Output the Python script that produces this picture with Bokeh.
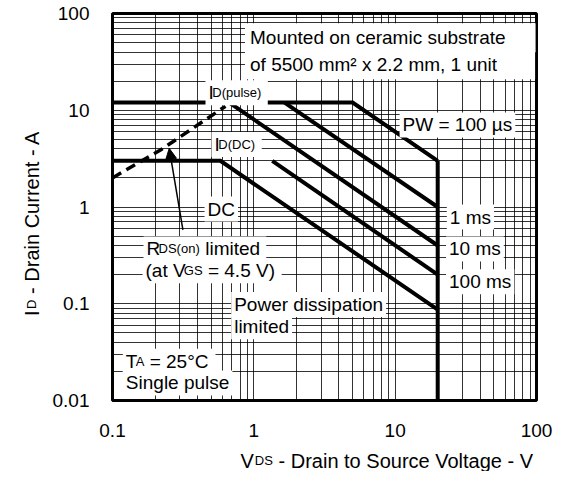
import math
from bokeh.plotting import figure
from bokeh.layouts import row, column
from bokeh.models import FixedTicker, Label, Arrow, NormalHead, Range1d
from bokeh.embed import file_html
from bokeh.resources import INLINE

# ---------------- data ----------------
pw100us_v = [0.1, 5.0, 20.0]
pw100us_i = [12.0, 12.0, 3.0]
pw1ms_v = [1.65, 20.0]
pw1ms_i = [12.0, 1.0]
pw10ms_v = [0.67, 20.0]
pw10ms_i = [12.0, 0.4]
pw100ms_v = [1.35, 20.0]
pw100ms_i = [3.0, 0.2]
dc_v = [0.1, 0.58, 20.0]
dc_i = [3.0, 3.0, 0.087]
vdss_v = [20.0, 20.0]
vdss_i = [3.0, 0.01]
rds_v = [0.1, 0.22, 0.63]
rds_i = [2.0, 3.9, 11.0]

x_major = [0.1, 1, 10, 100]
x_labels = ["0.1", "1", "10", "100"]
y_major = [0.01, 0.1, 1, 10, 100]
y_labels = ["0.01", "0.1", "1", "10", "100"]

FONT = "Liberation Sans"
FS = "19px"
SUB = "13px"
AX = "20px"

x_minor = [m * d for d in [0.1, 1, 10] for m in range(2, 10)]
y_minor = [m * d for d in [0.01, 0.1, 1, 10] for m in range(2, 10)]

# ---------------- main chart ----------------
p = figure(width=513, height=440, x_axis_type="log", y_axis_type="log",
           x_range=(0.1, 100), y_range=(0.01, 100),
           output_backend="svg", toolbar_location=None,
           min_border_left=72, min_border_right=17, min_border_top=13,
           min_border_bottom=40)

xt = FixedTicker(ticks=x_major, minor_ticks=x_minor)
yt = FixedTicker(ticks=y_major, minor_ticks=y_minor)
p.xaxis.ticker = xt
p.yaxis.ticker = yt
p.xgrid.ticker = xt
p.ygrid.ticker = yt
p.xaxis.major_label_overrides = {v: s for v, s in zip(x_major, x_labels)}
p.yaxis.major_label_overrides = {v: s for v, s in zip(y_major, y_labels)}

for ax in (p.xaxis, p.yaxis):
    ax.axis_line_color = None
    ax.major_tick_line_color = None
    ax.minor_tick_line_color = None
    ax.major_label_text_font = FONT
    ax.major_label_text_font_size = FS
    ax.major_label_text_color = "black"
p.xaxis.major_label_standoff = 17
p.yaxis.major_label_standoff = 17

for g in (p.xgrid, p.ygrid):
    g.grid_line_color = "black"
    g.grid_line_alpha = 0.8
    g.grid_line_width = 1
    g.minor_grid_line_color = "black"
    g.minor_grid_line_alpha = 0.8
    g.minor_grid_line_width = 1

p.outline_line_color = "black"
p.outline_line_width = 3
p.outline_line_alpha = 1.0
p.background_fill_color = "white"
p.border_fill_color = "white"

for xs, ys in [(pw100us_v, pw100us_i), (pw1ms_v, pw1ms_i), (pw10ms_v, pw10ms_i),
               (pw100ms_v, pw100ms_i), (dc_v, dc_i), (vdss_v, vdss_i)]:
    p.line(xs, ys, line_width=4, line_color="black", line_join="miter")

p.line(rds_v, rds_i, line_width=3.5, line_color="black", line_dash="10 6")

p.add_layout(Arrow(end=NormalHead(size=11, fill_color="black", line_color="black", line_width=1),
                   x_start=0.315, y_start=0.58, x_end=0.252, y_end=4.04,
                   line_width=1.5, line_color="black"))


def comp(x, y, pieces, lpad=3, rpad=3, vpad=2):
    """pieces: list of (text, font size, x offset in px).  Only the first
    (full size) piece carries the white box; its right padding (rpad) is
    wide enough to sit behind the whole composite text."""
    for k, (text, size, xoff) in enumerate(pieces):
        kw = {}
        if k == 0:
            kw = dict(background_fill_color="white",
                      padding=dict(left=lpad, right=rpad, top=vpad, bottom=vpad))
        p.add_layout(Label(x=x, y=y, x_offset=xoff, text=text, text_font=FONT,
                           text_font_size=size, text_color="black",
                           text_baseline="alphabetic", **kw))


def plain(x, y, text, **kw):
    comp(x, y, [(text, FS, 0)], **kw)


plain(0.866, 56.0, "Mounted on ceramic substrate", lpad=5, rpad=30, vpad=4)
plain(0.866, 29.5, "of 5500 mm² x 2.2 mm, 1 unit", lpad=5, rpad=38, vpad=4)

comp(0.455, 15.2, [("I", FS, 0), ("D(pulse)", SUB, 6.8)], rpad=54)
comp(0.5015, 4.43, [("I", FS, 0), ("D(DC)", SUB, 6.8)], rpad=42)

plain(10.75, 7.05, "PW = 100 µs")
plain(0.448, 0.951, "DC")
plain(23.2, 0.787, "1 ms")
plain(22.9, 0.369, "10 ms")
plain(22.9, 0.169, "100 ms")

comp(0.1658, 0.369, [("R", FS, 0), ("DS(on)", SUB, 15.0), ("limited", FS, 61.7)], rpad=106)
comp(0.1631, 0.219, [("(at V", FS, 0), ("GS", SUB, 41.3), ("= 4.5 V)", FS, 65.4)], rpad=96)

plain(0.6914, 0.098, "Power dissipation")
plain(0.6914, 0.0577, "limited")

comp(0.1184, 0.0254, [("T", FS, 0), ("A", SUB, 12.8), ("= 25°C", FS, 26.8)], rpad=78)
plain(0.1184, 0.0152, "Single pulse")


# ---------------- axis titles in their own small text panels ----------------
def text_panel(w, h):
    f = figure(width=w, height=h, x_range=Range1d(0, 1), y_range=Range1d(0, 1),
               x_axis_location=None, y_axis_location=None,
               output_backend="svg", toolbar_location=None, min_border=0,
               min_border_left=0, min_border_right=0, min_border_top=0,
               min_border_bottom=0)
    f.grid.visible = False
    f.outline_line_color = None
    f.background_fill_color = "white"
    f.border_fill_color = "white"
    return f


def stxt(f, x, y, text, size=AX, angle=0.0, align="left"):
    f.add_layout(Label(x=x, y=y, x_units="screen", y_units="screen", text=text,
                       text_font=FONT, text_font_size=size, text_color="black",
                       text_baseline="alphabetic", text_align=align, angle=angle))


px = text_panel(513, 31)
stxt(px, 128, 11, "V")
stxt(px, 142.3, 11, "DS", SUB)
stxt(px, 166.0, 11, "- Drain to Source Voltage - V")

py = text_panel(40, 471)
stxt(py, 31, 155.5, "I", angle=math.pi / 2)
stxt(py, 31, 162.6, "D", SUB, angle=math.pi / 2)
stxt(py, 31, 177.6, "- Drain Current - A", angle=math.pi / 2)

layout = row(py, column(p, px, spacing=0), spacing=0)

open("out.html", "w").write(file_html(layout, INLINE))
